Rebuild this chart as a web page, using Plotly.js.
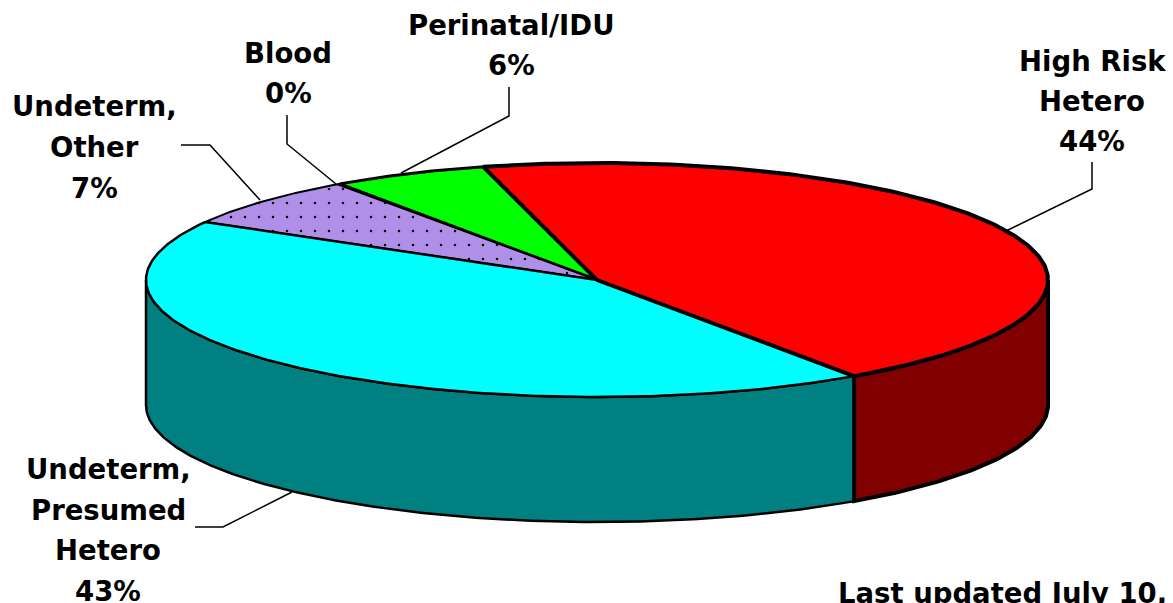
<!DOCTYPE html>
<html>
<head>
<meta charset="utf-8">
<script src="https://cdn.plot.ly/plotly-3.0.1.min.js"></script>
<style>html,body{margin:0;padding:0;background:#fff;overflow:hidden}#c{width:1173px;height:603px}</style>
</head>
<body>
<div id="c"></div>
<script>
// Data (clockwise, starting at the red slice)
const categories = ["High Risk Hetero", "Undeterm, Presumed Hetero", "Undeterm, Other", "Blood", "Perinatal/IDU"];
const shares = [44.4, 42.9, 7.0, 0.1, 5.6];
const topColors = ["#ff0000", "#00ffff", "#b08fe8", "#ffffff", "#00ff00"];
const sideColors = ["#800000", "#008080", "#5a4890", "#808080", "#008000"];
const outlineWidths = [4, 2.5, 2, 2, 3];

const labelLines = [
  ["High Risk", "Hetero", "44%"],
  ["Undeterm,", "Presumed", "Hetero", "43%"],
  ["Undeterm,", "Other", "7%"],
  ["Blood", "0%"],
  ["Perinatal/IDU", "6%"]
];
const labelCentres = [[1092, 61], [108, 469], [94, 106], [288, 53], [511, 25]];
const labelSteps = [40, 40.5, 41, 40, 40];
const leaders = [
  [[1092, 162], [1092, 189], [1004, 232]],
  [[195, 527], [223, 527], [292, 492]],
  [[181, 145], [210, 145], [260, 200]],
  [[287, 115], [287, 144], [336, 184]],
  [[509, 87], [509, 116], [401, 173]]
];
const footnote = "Last updated July 10,";

// Pie geometry
const cx = 597, cy = 280, rx = 451, ry = 117, depth = 125, startAngle = -14.6;
const total = shares.reduce((a, b) => a + b, 0);
const pt = (deg, dy) => {
  const a = deg * Math.PI / 180;
  return [cx + rx * Math.sin(a), cy - ry * Math.cos(a) + (dy || 0)];
};
const arc = (a0, a1, dy) => {
  const n = Math.max(2, Math.ceil(Math.abs(a1 - a0) * 1.5));
  const out = [];
  for (let i = 0; i <= n; i++) out.push(pt(a0 + (a1 - a0) * i / n, dy));
  return out;
};
const poly = (pts, color, lw, extra) => Object.assign({
  x: pts.map(p => p[0]), y: pts.map(p => p[1]),
  mode: "lines", fill: "toself", fillcolor: color,
  line: {color: "#000", width: lw}, hoverinfo: "skip", showlegend: false
}, extra || {});

const traces = [];
let edges = [startAngle];
shares.forEach(s => edges.push(edges[edges.length - 1] + s / total * 360));

// Visible rim, then top faces; red goes last so its heavier outline stays on top
const order = shares.map((_, i) => i).reverse();
order.forEach(i => {
  const a0 = Math.max(edges[i], 90), a1 = Math.min(edges[i + 1], 270);
  if (a1 <= a0) return;
  traces.push(poly(arc(a0, a1, 0).concat(arc(a1, a0, depth)).concat([pt(a0, 0)]), sideColors[i], outlineWidths[i]));
});
order.forEach(i => {
  const pts = [[cx, cy]].concat(arc(edges[i], edges[i + 1], 0)).concat([[cx, cy]]);
  const extra = categories[i] === "Undeterm, Other"
    ? {fillpattern: {shape: ".", size: 14, solidity: 0.025, fgcolor: "#000", bgcolor: topColors[i], fillmode: "replace"}}
    : {};
  traces.push(poly(pts, topColors[i], outlineWidths[i], extra));
});
// Leader lines
leaders.forEach(l => traces.push({
  x: l.map(p => p[0]), y: l.map(p => p[1]), mode: "lines",
  line: {color: "#000", width: 1.5}, hoverinfo: "skip", showlegend: false
}));

const font = {family: "DejaVu Sans, Verdana, sans-serif", size: 27.5, color: "#000"};
const annotations = [];
labelLines.forEach((lines, i) => lines.forEach((t, j) => annotations.push({
  x: labelCentres[i][0], y: labelCentres[i][1] + j * labelSteps[i],
  xref: "x", yref: "y", text: "<b>" + t + "</b>", showarrow: false,
  xanchor: "center", yanchor: "middle", font
})));
annotations.push({x: 1002, y: 593, xref: "x", yref: "y", text: "<b>" + footnote + "</b>",
  showarrow: false, xanchor: "center", yanchor: "middle",
  font: {family: font.family, size: 27.5, color: "#000"}});

const hidden = {visible: false, fixedrange: true};
Plotly.newPlot("c", traces, {
  width: 1173, height: 603,
  margin: {l: 0, r: 0, t: 0, b: 0},
  paper_bgcolor: "#fff", plot_bgcolor: "#fff", showlegend: false,
  xaxis: Object.assign({range: [0, 1173]}, hidden),
  yaxis: Object.assign({range: [603, 0]}, hidden),
  annotations
}, {displayModeBar: false, staticPlot: true});
</script>
</body>
</html>
